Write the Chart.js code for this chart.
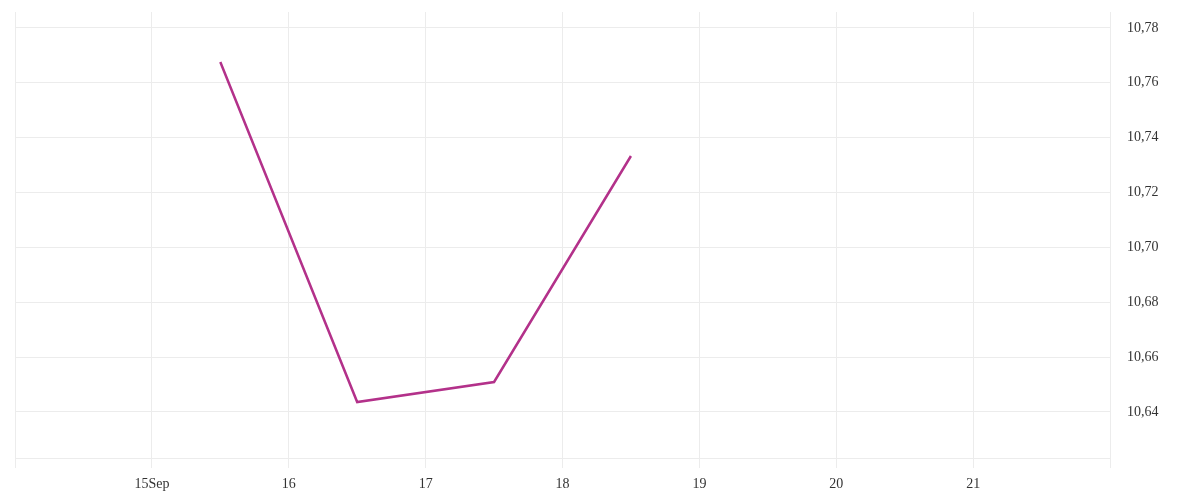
<!DOCTYPE html>
<html>
<head>
<meta charset="utf-8">
<script src="https://cdn.jsdelivr.net/npm/chart.js@4/dist/chart.umd.min.js"></script>
<style>
  html, body { margin: 0; padding: 0; background: #fff; }
  #wrap { width: 1200px; height: 500px; position: relative; }
</style>
</head>
<body>
<div id="wrap"><canvas id="priceChart"></canvas></div>
<script>
// day of September (noon points)
const days = [15.5, 16.5, 17.5, 18.5];
const prices = [10.7676, 10.6436, 10.6509, 10.7333];
const xTicks = [14, 15, 16, 17, 18, 19, 20, 21, 22];
const xTickLabels = ['', '15Sep', '16', '17', '18', '19', '20', '21', ''];
const yTicks = [10.64, 10.66, 10.68, 10.70, 10.72, 10.74, 10.76, 10.78];

const gridColor = '#ececec';
const fontSpec = { family: '"Liberation Serif", "DejaVu Serif", serif', size: 14 };

const ctx = document.getElementById('priceChart').getContext('2d');
new Chart(ctx, {
    type: 'line',
    data: {
        datasets: [{
            data: days.map((d, i) => ({ x: d, y: prices[i] })),
            borderColor: '#b3318a',
            borderWidth: 2.5,
            pointRadius: 0,
            tension: 0,
            fill: false
        }]
    },
    options: {
        responsive: true,
        maintainAspectRatio: false,
        animation: false,
        layout: { padding: { left: 15, top: 12, right: 0, bottom: 0 } },
        plugins: {
            legend: { display: false },
            tooltip: { enabled: false }
        },
        scales: {
            x: {
                type: 'linear',
                min: 14,
                max: 22,
                afterBuildTicks: function(axis) {
                    axis.ticks = xTicks.map(v => ({ value: v }));
                },
                afterFit: function(axis) {
                    axis.height = 42;
                    axis.paddingLeft = 0;
                    axis.paddingRight = 0;
                },
                grid: { color: gridColor, tickLength: 10 },
                border: { color: gridColor },
                ticks: {
                    color: '#333',
                    font: fontSpec,
                    padding: 8,
                    maxRotation: 0,
                    callback: function(value) {
                        const i = xTicks.indexOf(value);
                        return i >= 0 ? xTickLabels[i] : '';
                    }
                }
            },
            y: {
                position: 'right',
                min: 10.6232,
                max: 10.7858,
                afterBuildTicks: function(axis) {
                    axis.ticks = yTicks.map(v => ({ value: v }));
                },
                afterFit: function(axis) {
                    axis.width = 90;
                    axis.paddingTop = 0;
                    axis.paddingBottom = 0;
                },
                grid: { color: gridColor, drawTicks: false },
                border: { color: gridColor },
                ticks: {
                    color: '#333',
                    font: fontSpec,
                    padding: 17,
                    callback: function(value) { return value.toFixed(2).replace('.', ','); }
                }
            }
        }
    }
});
</script>
</body>
</html>
